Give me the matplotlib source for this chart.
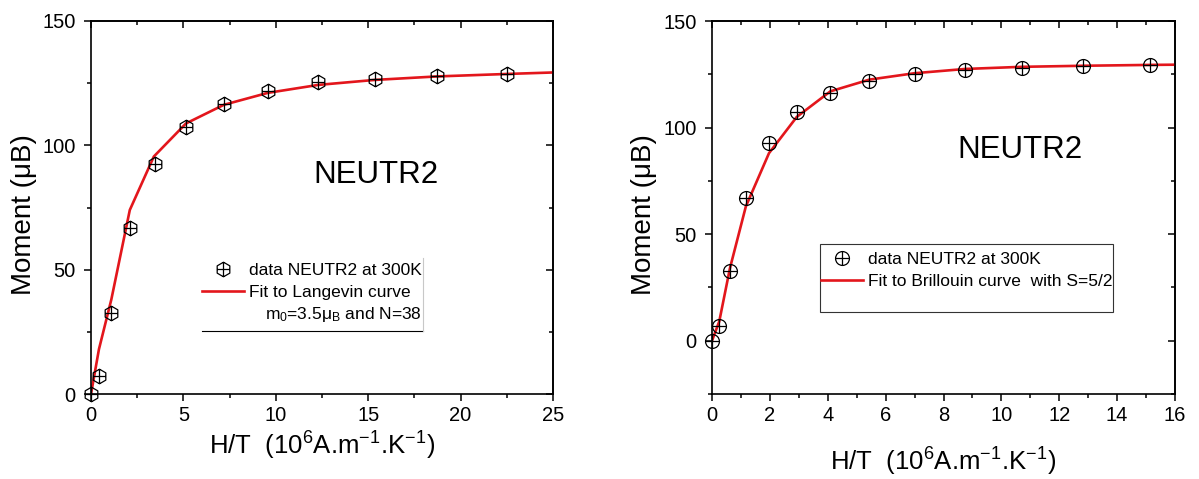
import matplotlib
matplotlib.use('Agg')
import matplotlib.pyplot as plt
from matplotlib.path import Path
from matplotlib.lines import Line2D
from matplotlib.patches import Rectangle
from matplotlib.ticker import MultipleLocator

plt.rcParams['font.family'] = ['Liberation Sans', 'DejaVu Sans']
plt.rcParams['mathtext.default'] = 'regular'

# Left panel: Langevin fit
lang_x = [0, 0.43, 1.1, 2.13, 3.47, 5.14, 7.19, 9.57, 12.3, 15.35, 18.7, 22.5]
lang_y = [0, 7.1, 32.5, 66.8, 92.5, 107.5, 116.6, 122.0, 125.3, 126.8, 128.0, 128.6]
lang_fit_x = [0, 0.43, 1.1, 2.1, 3.4, 5.14, 7.19, 9.57, 12.3, 15.35, 18.7, 22.5, 25]
lang_fit_y = [0, 18, 38, 74, 95.5, 108.8, 116.3, 121.1, 124.3, 126.3, 127.7, 128.7, 129.3]

# Right panel: Brillouin fit
bril_x = [0, 0.25, 0.62, 1.17, 1.97, 2.93, 4.09, 5.44, 7.0, 8.75, 10.7, 12.83, 15.14]
bril_y = [0, 7.0, 32.8, 67.0, 92.6, 107.5, 116.4, 121.9, 125.0, 126.9, 128.1, 128.8, 129.2]
bril_fit_x = [0, 0.25, 0.62, 1.17, 1.97, 2.93, 4.09, 5.44, 7.0, 8.75, 10.7, 12.83, 15.14, 16]
bril_fit_y = [0, 9, 34, 63, 88, 105, 117, 122.5, 125.5, 127.5, 128.5, 129.0, 129.4, 129.5]

xlabel = r'H/T  (10$^6$A.m$^{-1}$.K$^{-1}$)'
ylabel = 'Moment (μB)'
data_label = 'data NEUTR2 at 300K'
RED = '#e3161c'


def plus_marker(shape):
    # outline shape with a cross through it
    cross_h = Path([[-1, 0], [1, 0]], [Path.MOVETO, Path.LINETO])
    cross_v = Path([[0, -1], [0, 1]], [Path.MOVETO, Path.LINETO])
    if shape == 'hex':
        outline = Path.unit_regular_polygon(6)
        cross_h = Path([[-0.866, 0], [0.866, 0]], [Path.MOVETO, Path.LINETO])
    else:
        outline = Path.unit_circle()
    return Path.make_compound_path(outline, cross_h, cross_v)


def style_axes(ax, xmax, xmaj, xmin, ymin):
    ax.set_xlim(0, xmax)
    ax.set_ylim(ymin, 150)
    ax.xaxis.set_major_locator(MultipleLocator(xmaj))
    ax.xaxis.set_minor_locator(MultipleLocator(xmin))
    ax.yaxis.set_major_locator(MultipleLocator(50))
    ax.yaxis.set_minor_locator(MultipleLocator(25))
    for s in ax.spines.values():
        s.set_linewidth(1.2)
    ax.tick_params(which='both', direction='out', top=False, right=False,
                   labelsize=14.5, width=1.1)
    ax.tick_params(which='major', length=5)
    ax.tick_params(which='minor', length=3)
    ax.tick_params(axis='x', pad=3.5)
    ax.tick_params(axis='y', pad=6)
    # inward ticks on top and right
    top = ax.secondary_xaxis('top')
    top.xaxis.set_major_locator(MultipleLocator(xmaj))
    top.xaxis.set_minor_locator(MultipleLocator(xmin))
    top.tick_params(which='both', direction='in', labeltop=False, width=1.1)
    top.tick_params(which='major', length=5)
    top.tick_params(which='minor', length=3)
    top.spines['top'].set_linewidth(1.2)
    right = ax.secondary_yaxis('right')
    right.yaxis.set_major_locator(MultipleLocator(50))
    right.yaxis.set_minor_locator(MultipleLocator(25))
    right.tick_params(which='both', direction='in', labelright=False, width=1.1)
    right.tick_params(which='major', length=5)
    right.tick_params(which='minor', length=3)
    right.spines['right'].set_linewidth(1.2)
    ax.set_xlabel(xlabel, fontsize=18.5)
    ax.set_ylabel(ylabel, fontsize=20)


fig = plt.figure(figsize=(11.99, 4.79), dpi=100)
ax1 = fig.add_axes([91 / 1199, 85 / 479, 462 / 1199, 373 / 479])
ax2 = fig.add_axes([712 / 1199, 85 / 479, 463 / 1199, 373 / 479])

hex_m = plus_marker('hex')
circ_m = plus_marker('circle')

# ---- left panel
style_axes(ax1, 25, 5, 2.5, 0)
ax1.plot(lang_fit_x, lang_fit_y, color=RED, lw=1.9, zorder=2)
ax1.plot(lang_x, lang_y, ls='none', marker=hex_m, ms=10.5, mfc='none',
         mec='black', mew=0.9, zorder=3, clip_on=False)
ax1.text(0.617, 0.587, 'NEUTR2', transform=ax1.transAxes, fontsize=22.5,
         ha='center', va='center')
h_data = Line2D([], [], ls='none', marker=hex_m, ms=10.5, mfc='none', mec='black', mew=0.9)
h_fit = Line2D([], [], color=RED, lw=1.9)
ax1.legend([h_data, h_fit], [data_label, 'Fit to Langevin curve'],
           loc='upper left', bbox_to_anchor=(0.240, 0.352), frameon=False,
           fontsize=12.5, handlelength=2.4, handletextpad=0.3,
           labelspacing=0.4, borderpad=0, borderaxespad=0)
ax1.text(0.716, 0.212, r'm$_0$=3.5μ$_B$ and N=38', transform=ax1.transAxes,
         fontsize=12.5, ha='right', va='center')
ax1.plot([0.240, 0.719], [0.169, 0.169], transform=ax1.transAxes,
         color='black', lw=0.8)
ax1.plot([0.719, 0.719], [0.169, 0.365], transform=ax1.transAxes,
         color='#c8c8c8', lw=0.8)
ax1.xaxis.set_label_coords(0.5, -0.095)
ax1.yaxis.set_label_coords(-0.117, 0.48)

# ---- right panel
style_axes(ax2, 16, 2, 1, -25)
ax2.plot(bril_fit_x, bril_fit_y, color=RED, lw=1.9, zorder=2)
ax2.plot(bril_x, bril_y, ls='none', marker=circ_m, ms=10, mfc='none',
         mec='black', mew=0.9, zorder=3, clip_on=False)
ax2.text(0.665, 0.654, 'NEUTR2', transform=ax2.transAxes, fontsize=22.5,
         ha='center', va='center')
ax2.add_patch(Rectangle((0.2326, 0.2198), 0.6335, 0.1823, transform=ax2.transAxes,
                        facecolor='white', edgecolor='#333333', lw=0.8, zorder=4))
h_data2 = Line2D([], [], ls='none', marker=circ_m, ms=10, mfc='none', mec='black', mew=0.9)
leg2 = ax2.legend([h_data2, h_fit], [data_label, 'Fit to Brillouin curve  with S=5/2'],
                  loc='upper left', bbox_to_anchor=(0.2365, 0.381), frameon=False,
                  fontsize=12.5, handlelength=2.4, handletextpad=0.3,
                  labelspacing=0.4, borderpad=0, borderaxespad=0)
leg2.set_zorder(5)
ax2.xaxis.set_label_coords(0.5, -0.14)
ax2.yaxis.set_label_coords(-0.119, 0.48)

fig.savefig('out.png', dpi=100)
